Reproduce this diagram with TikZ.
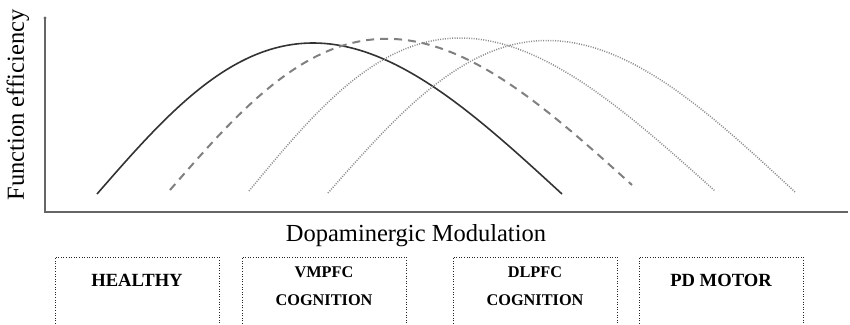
\documentclass[tikz,border=0pt]{standalone}
\usepackage{fontspec}
\setmainfont{Liberation Serif}
\begin{document}
\begin{tikzpicture}[x=1pt,y=-1pt,
  axlab/.style={font=\fontsize{24.5}{28}\selectfont, inner sep=0pt},
  lab/.style={font=\fontsize{18.6}{28}\selectfont\bfseries, align=center, inner sep=0pt},
  lab2/.style={font=\fontsize{16.3}{28}\selectfont\bfseries, align=center, inner sep=0pt},
  grp/.style={draw=black!85, line width=0.8pt, dash pattern=on 1pt off 1.6pt},
  axis/.style={draw=black!60, line width=1.8pt},
  solidc/.style={draw=black!80, line width=1.6pt},
  dashc/.style={draw=black!50, line width=2pt, dash pattern=on 8pt off 6pt},
  dotc/.style={draw=black!45, line width=1.5pt, dash pattern=on 1pt off 1.4pt}]
\useasboundingbox (0,0) rectangle (850,324);
% axes
\coordinate (top) at (45,18);
\coordinate (origin) at (45,212);
\coordinate (xend) at (848,212);
\draw[axis] (top) -- (origin) -- (xend);
\fill[black!60] (top) circle (1.6pt);
% axis labels
\node[axlab, rotate=90] (ylab) at (18,105) {Function efficiency};
\node[axlab] (xlab) at (416,236) {Dopaminergic Modulation};
% curves
\draw[solidc] plot[domain=0:180, samples=150, variable=\u] ({97+2.58333*\u-16.5*sin(\u)}, {194-151*sin(\u)});
\draw[dashc] plot[domain=0:180, samples=150, variable=\u] ({170+2.56667*\u-16*sin(\u)}, {190-0.02778*\u-148.7*sin(\u)});
\draw[dotc] plot[domain=0:180, samples=150, variable=\u] ({249+2.58889*\u-22*sin(\u)}, {191-153*sin(\u)});
\draw[dotc] plot[domain=0:180, samples=150, variable=\u] ({328+2.59444*\u-14.5*sin(\u)}, {193-0.00556*\u-152*sin(\u)});
% group boxes
\draw[grp] (55,324) -- (55,257) -- (219,257) -- (219,324);
\draw[grp] (242,324) -- (242,257) -- (406,257) -- (406,324);
\draw[grp] (453,324) -- (453,257) -- (617,257) -- (617,324);
\draw[grp] (639,324) -- (639,257) -- (803,257) -- (803,324);
\node[lab] (healthy) at (137,280) {HEALTHY};
\node[lab2] (vmpfc) at (324,286) {VMPFC\\COGNITION};
\node[lab2] (dlpfc) at (535,286) {DLPFC\\COGNITION};
\node[lab] (pd) at (721,280) {PD MOTOR};
\end{tikzpicture}
\end{document}
